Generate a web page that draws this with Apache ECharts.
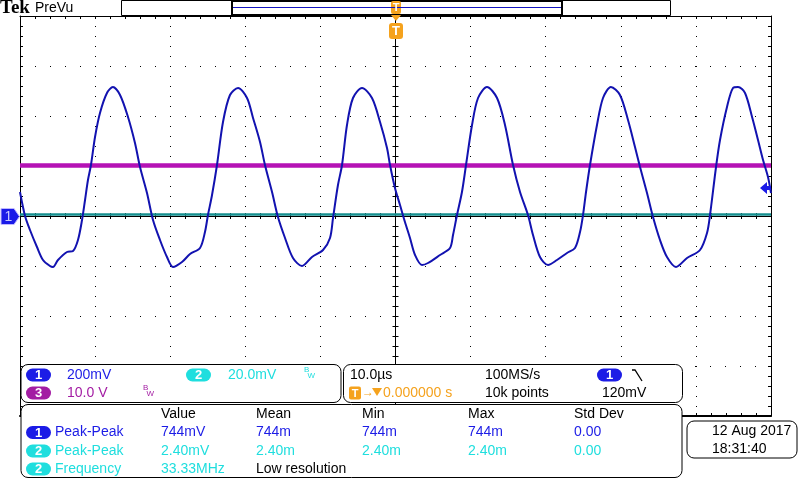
<!DOCTYPE html>
<html><head><meta charset="utf-8">
<script src="https://cdn.jsdelivr.net/npm/echarts@6/dist/echarts.min.js"></script>
<style>html,body{margin:0;padding:0;background:#fff}#c{width:800px;height:480px}</style>
</head><body><div id="c"></div>
<script>
// ---- data ----
const timeUs = [-50.0,-49.33,-48.67,-47.74,-46.94,-46.01,-45.61,-44.94,-43.74,-42.94,
-42.28,-41.74,-41.34,-40.95,-40.55,-40.01,-39.35,-38.42,-37.62,-36.68,
-35.62,-34.69,-34.02,-33.09,-32.29,-31.36,-30.43,-29.63,-28.43,-27.36,
-26.03,-25.37,-24.97,-24.43,-23.77,-22.97,-22.04,-20.97,-19.77,-18.97,
-18.04,-17.38,-16.44,-15.65,-14.71,-13.65,-12.45,-11.12,-9.65,-8.72,
-8.32,-7.66,-7.12,-6.46,-5.66,-4.46,-3.13,-2.06,-1.13,-0.73,
-0.07,0.60,1.26,1.93,2.60,3.53,4.33,5.93,7.26,7.66,
8.19,8.85,9.39,10.19,10.99,12.18,13.52,14.58,15.65,16.58,
17.64,18.31,19.24,20.31,21.50,22.84,23.90,24.57,24.97,25.37,
25.90,26.83,27.63,28.69,29.89,30.96,31.89,32.56,33.49,34.29,
35.22,36.15,37.35,38.82,40.55,41.48,41.88,42.68,43.21,44.14,
44.94,45.61,46.54,47.48,48.27,48.94,49.60,50.0];
const ch1mV = [96,0,-56,-124,-176,-200,-204,-176,-144,-140,
-96,-16,64,144,204,316,412,492,516,484,
396,292,196,92,-16,-96,-164,-204,-184,-152,
-128,-64,4,84,204,376,484,512,472,392,
296,204,96,-4,-88,-168,-200,-164,-136,-88,
-8,124,204,364,472,512,472,376,272,204,
112,44,-24,-88,-156,-196,-188,-156,-128,-76,
4,96,204,364,472,516,472,364,204,96,
4,-76,-164,-196,-176,-148,-128,-64,4,96,
204,364,472,516,484,384,276,196,92,-4,
-96,-164,-204,-168,-136,-68,4,196,304,436,
512,516,492,396,304,224,156,92];
const ch1mVPerDiv = 200;
const ch2LevelDiv = 0.03;   // channel 2 trace position (divisions)
const ch3LevelDiv = 1.01;   // channel 3 trace position (divisions)
const timeRange = [-50, 50];     // 10 div x 10 us
const divRange = [-4, 4];        // 8 vertical divisions

const chanSettings = [['1','200mV'],['2','20.0mV'],['3','10.0 V']];
const horiz = ['10.0\u00b5s','0.000000 s','100MS/s','10k points','120mV'];
const measHeader = ['Value','Mean','Min','Max','Std Dev'];
const measChan = ['1','2','2'];
const measName = ['Peak-Peak','Peak-Peak','Frequency'];
const measVals = [
  ['744mV','744m','744m','744m','0.00'],
  ['2.40mV','2.40m','2.40m','2.40m','0.00'],
  ['33.33MHz','Low resolution']
];
const dateText = ['12 Aug 2017','18:31:40'];

// ---- styling ----
const BLUE='#1c1ce6', CYAN='#1fdede', PURP='#a31ca3', ORNG='#f5a21d';
const FONT='"Liberation Sans", Arial, sans-serif';
const FS=14;
const chanColor = {'1':BLUE,'2':CYAN,'3':PURP};

function txt(x,y,s,color,size,align,weight){
  return {type:'text',z:110,x:x,y:y,silent:true,
    style:{text:s,fill:color,font:(weight?weight+' ':'')+(size||FS)+'px '+FONT,
      textAlign:align||'left',align:align||'left',
      textVerticalAlign:'middle',verticalAlign:'middle'}};
}
function rrect(x,y,w,h,r,fill,stroke,lw){
  return {type:'rect',z:100,silent:true,shape:{x:x,y:y,width:w,height:h,r:r},
    style:{fill:fill,stroke:stroke||null,lineWidth:lw||1}};
}
function pill(x,cy,ch){
  const t = txt(x+12.5,cy+0.5,ch,'#fff',13,'center','bold'); t.z=112;
  return [rrect(x,cy-6.5,25,13,6.5,chanColor[ch]), t];
}
function z(el,v){el.z=v;return el;}

const g = [];
// top bar
g.push({type:'text',z:110,x:0,y:8.5,style:{text:'Tek',fill:'#000',font:'bold 19px "Liberation Serif", serif',
  textVerticalAlign:'middle',verticalAlign:'middle'}});
g.push(txt(35,8,'PreVu','#000',14));
g.push(rrect(121.5,0.5,549,15,0,'#fff','#000',1));
g.push(rrect(232,1,330,14,0,'#fff','#000',2));
g.push({type:'line',z:101,shape:{x1:233,y1:7.5,x2:561,y2:7.5},style:{stroke:'#1212c0',lineWidth:1}});
g.push(rrect(391,1,10,13,2,ORNG));
g.push(z(txt(396,8,'T','#fff',11,'center','bold'),112));
g.push({type:'polygon',z:101,shape:{points:[[391,15],[401,15],[396,21]]},style:{fill:ORNG}});
g.push(rrect(389,23,14,16,3,ORNG));
g.push(z(txt(396,31.5,'T','#fff',13,'center','bold'),112));
// left ground marker
g.push({type:'polygon',z:101,shape:{points:[[1,208.5],[14,208.5],[19.5,216.5],[14,224.5],[1,224.5]]},style:{fill:'#1a1ae8',stroke:'#c0b8ff',lineWidth:1}});
g.push(z(txt(8.5,217,'1','#c8c8ff',14,'center'),112));
// right trigger level marker
g.push({type:'polygon',z:101,shape:{points:[[760,188],[767,182],[767,186],[771,186],[771,190],[767,190],[767,194]]},style:{fill:'#1a1ae8'}});

// panel A: channel settings
g.push(rrect(21,364.5,320,38,7,'#fff','#000',1));
g.push(...pill(26,375,'1'));
g.push(txt(67,375,chanSettings[0][1],BLUE));
g.push(...pill(186,375,'2'));
g.push(txt(228,375,chanSettings[1][1],CYAN));
g.push(txt(304,370,'B',CYAN,8)); g.push(txt(307.5,376,'W',CYAN,8));
g.push(...pill(26,393,'3'));
g.push(txt(67,393,chanSettings[2][1],PURP));
g.push(txt(143,388,'B',PURP,8)); g.push(txt(146.5,394,'W',PURP,8));

// panel B: horizontal / trigger
g.push(rrect(343.5,364.5,339,38,7,'#fff','#000',1));
g.push(txt(350,375,horiz[0],'#000'));
g.push(rrect(349,386.5,12,13,2,ORNG));
g.push(z(txt(355,393.5,'T','#fff',11,'center','bold'),112));
g.push(txt(362,393,'\u2192',ORNG,12));
g.push({type:'polygon',z:101,shape:{points:[[372,388],[382,388],[377,396]]},style:{fill:ORNG}});
g.push(txt(383,393,horiz[1],ORNG));
g.push(txt(485,375,horiz[2],'#000'));
g.push(txt(485,393,horiz[3],'#000'));
g.push(...pill(597,375,'1'));
g.push({type:'polyline',z:101,shape:{points:[[632,370],[635,370],[642,381]]},style:{stroke:'#000',lineWidth:1.3,fill:null}});
g.push(txt(602,393,horiz[4],'#000'));

// panel C: measurements
g.push(rrect(21,404.5,661,73,7,'#fff','#000',1));
const colX=[161,256,362,468,574];
measHeader.forEach((h,i)=>g.push(txt(colX[i],414,h,'#000')));
const rowY=[432.5,451,469];
measChan.forEach((ch,r)=>{
  g.push(...pill(26,rowY[r],ch));
  g.push(txt(55,rowY[r],measName[r],chanColor[ch]));
  measVals[r].forEach((v,i)=>{
    const col = (r===2 && i===1) ? '#000' : chanColor[ch];
    g.push(txt(colX[i],rowY[r],v,col));
  });
});

// panel D: date
g.push(rrect(687,421,110,37,7,'#fff','#000',1));
g.push(txt(712,431,dateText[0],'#000'));
g.push(txt(712,449,dateText[1],'#000'));

// ---- axes ----
const gridRect={left:20,top:16,width:751,height:400};
const hide={show:false};
function tickCfg(inside){
  return {axisTick:{show:true,inside:inside,length:3,lineStyle:{color:'#000'}},
    minorTick:{show:true,splitNumber:5,length:3,lineStyle:{color:'#000'}}};
}
function borderX(pos,show,lw){
  return Object.assign({type:'value',gridIndex:0,position:pos,min:timeRange[0],max:timeRange[1],interval:10,
    axisLabel:hide,axisLine:{show:true,onZero:false,lineStyle:{color:'#000',width:lw}},
    splitLine:show?{show:true,lineStyle:{color:'#000',width:1,type:[1,9]}}:hide},tickCfg(true));
}
function borderY(pos,show,lw){
  return Object.assign({type:'value',gridIndex:0,position:pos,min:divRange[0],max:divRange[1],interval:1,
    axisLabel:hide,axisLine:{show:true,onZero:false,lineStyle:{color:'#000',width:lw}},
    splitLine:show?{show:true,lineStyle:{color:'#000',width:1,type:[1,14]}}:hide},tickCfg(true));
}
function centerX(gi,inside){
  return Object.assign({type:'value',gridIndex:gi,min:timeRange[0],max:timeRange[1],interval:10,
    axisLabel:hide,axisLine:{show:true,onZero:true,lineStyle:{color:'#000',width:1}},splitLine:hide},tickCfg(inside));
}
function centerY(gi,inside){
  return Object.assign({type:'value',gridIndex:gi,min:divRange[0],max:divRange[1],interval:1,
    axisLabel:hide,axisLine:{show:true,onZero:true,lineStyle:{color:'#000',width:1}},splitLine:hide},tickCfg(inside));
}

const ch1Data = timeUs.map((t,i)=>[t, ch1mV[i]/ch1mVPerDiv]);

const option = {
  animation:false,
  backgroundColor:'#fff',
  grid:[Object.assign({},gridRect),Object.assign({},gridRect),Object.assign({},gridRect)],
  xAxis:[borderX('bottom',true,2),borderX('top',false,1),centerX(1,true),centerX(2,false)],
  yAxis:[borderY('left',true,1),borderY('right',false,1),centerY(1,true),centerY(2,false)],
  series:[
    {type:'line',xAxisIndex:0,yAxisIndex:0,symbol:'none',z:3,
      data:[[timeRange[0],ch3LevelDiv],[timeRange[1],ch3LevelDiv]],
      lineStyle:{color:'#b512b5',width:4.5}},
    {type:'line',xAxisIndex:0,yAxisIndex:0,symbol:'none',z:3,
      data:[[timeRange[0],ch2LevelDiv],[timeRange[1],ch2LevelDiv]],
      lineStyle:{color:'#168f8f',width:2.5}},
    {type:'line',xAxisIndex:0,yAxisIndex:0,symbol:'none',z:5,smooth:0.3,
      data:ch1Data,lineStyle:{color:'#1212b0',width:2}}
  ],
  graphic:{elements:g}
};
const chart = echarts.init(document.getElementById('c'),null,{renderer:'canvas'});
chart.setOption(option);
</script></body></html>
